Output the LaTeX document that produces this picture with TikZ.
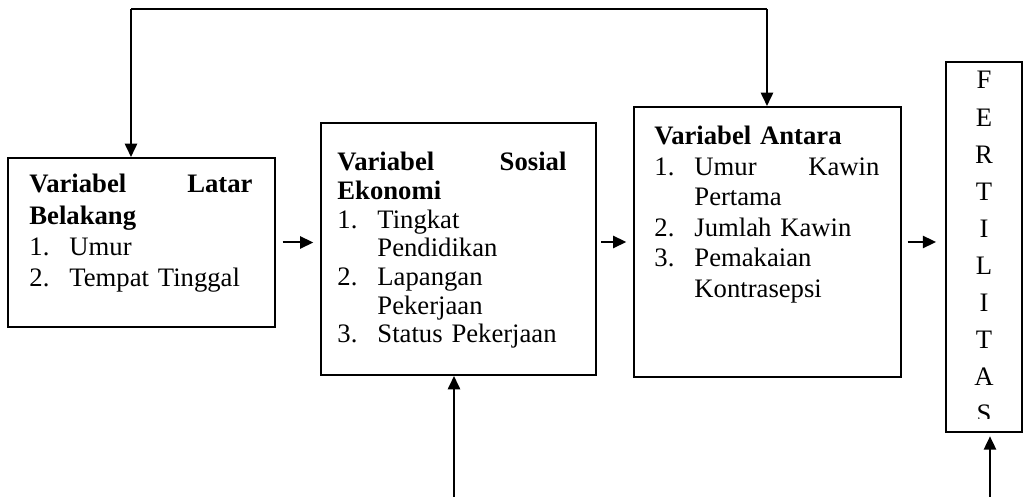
\documentclass[tikz,border=0pt]{standalone}
\usepackage{fontspec}
\setmainfont{Liberation Serif}
\usetikzlibrary{arrows.meta,positioning}

\newcommand{\sat}{0.45pt}
\newcommand{\butir}[2]{\par\noindent\hangindent=18pt\hangafter=1\makebox[18pt][l]{#1}#2\par}

\begin{document}
\begin{tikzpicture}[
  x=0.45pt, y=-0.45pt,
  kotak/.style={rectangle, draw, line width=0.9pt, inner sep=0pt},
  isi/.style={anchor=north west, inner sep=0pt, font=\fontsize{12pt}{#1}\selectfont},
  isi/.default=14pt,
  panah/.style={-{Triangle[length=6pt,width=5.5pt]}, line width=0.9pt},
  garis/.style={line width=0.9pt}
]
\useasboundingbox (0,0) rectangle (1024,497);

% Kotak variabel
\node[kotak, minimum width=267*\sat, minimum height=169*\sat] (latar) at (141.5,242.5) {};
\node[kotak, minimum width=275*\sat, minimum height=252*\sat] (sosial) at (458.5,249) {};
\node[kotak, minimum width=267*\sat, minimum height=270*\sat] (antara) at (767.5,242) {};
\node[kotak, minimum width=76*\sat, minimum height=370*\sat] (fertil) at (984,247) {};

% Isi kotak
\node[isi=14.1pt, text width=223*\sat] (teks-latar) at ([shift={(22,17)}]latar.north west) {%
  \noindent\textbf{Variabel\hfill Latar}\newline\textbf{Belakang}
  \butir{1.}{Umur}
  \butir{2.}{Tempat Tinggal}};
\node[isi=12.9pt, text width=229*\sat] (teks-sosial) at ([shift={(17,30)}]sosial.north west) {%
  \noindent\textbf{Variabel\hfill Sosial}\newline\textbf{Ekonomi}
  \butir{1.}{Tingkat\newline Pendidikan}
  \butir{2.}{Lapangan\newline Pekerjaan}
  \butir{3.}{Status Pekerjaan}};
\node[isi=13.7pt, text width=225*\sat] (teks-antara) at ([shift={(21,20)}]antara.north west) {%
  \noindent\textbf{Variabel Antara}
  \butir{1.}{Umur\hfill Kawin\newline Pertama}
  \butir{2.}{Jumlah Kawin}
  \butir{3.}{Pemakaian\newline Kontrasepsi}};
\begin{scope}
  \clip (fertil.north west) rectangle ([yshift=6.5pt]fertil.south east);
  \node[isi, anchor=north, align=center, font=\fontsize{12pt}{16.7pt}\selectfont] (teks-fertil) at ([yshift=-4.5pt]fertil.north)
    {F\\E\\R\\T\\I\\L\\I\\T\\A\\S};
\end{scope}

% Garis umpan balik atas
\coordinate (atas-kiri) at (131,9);
\coordinate (atas-kanan) at (767,9);
\draw[garis] (atas-kiri) -- (atas-kanan);
\draw[panah] (atas-kiri) -- (atas-kiri |- latar.north);
\draw[panah] (atas-kanan) -- (atas-kanan |- antara.north);

% Panah antar kotak
\draw[panah, shorten <=3pt, shorten >=3pt] (latar.east) -- (latar.east -| sosial.west);
\draw[panah, shorten <=2pt, shorten >=3pt] (sosial.east |- antara.west) -- (antara.west);
\draw[panah, shorten <=2.5pt, shorten >=4pt] (antara.east) -- (antara.east -| fertil.west);

% Panah dari bawah
\coordinate (bawah-sosial) at (454,497);
\coordinate (bawah-fertil) at (990,497);
\draw[panah] (bawah-sosial) -- (bawah-sosial |- sosial.south);
\draw[panah, shorten >=1.5pt] (bawah-fertil) -- (bawah-fertil |- fertil.south);
\end{tikzpicture}
\end{document}
